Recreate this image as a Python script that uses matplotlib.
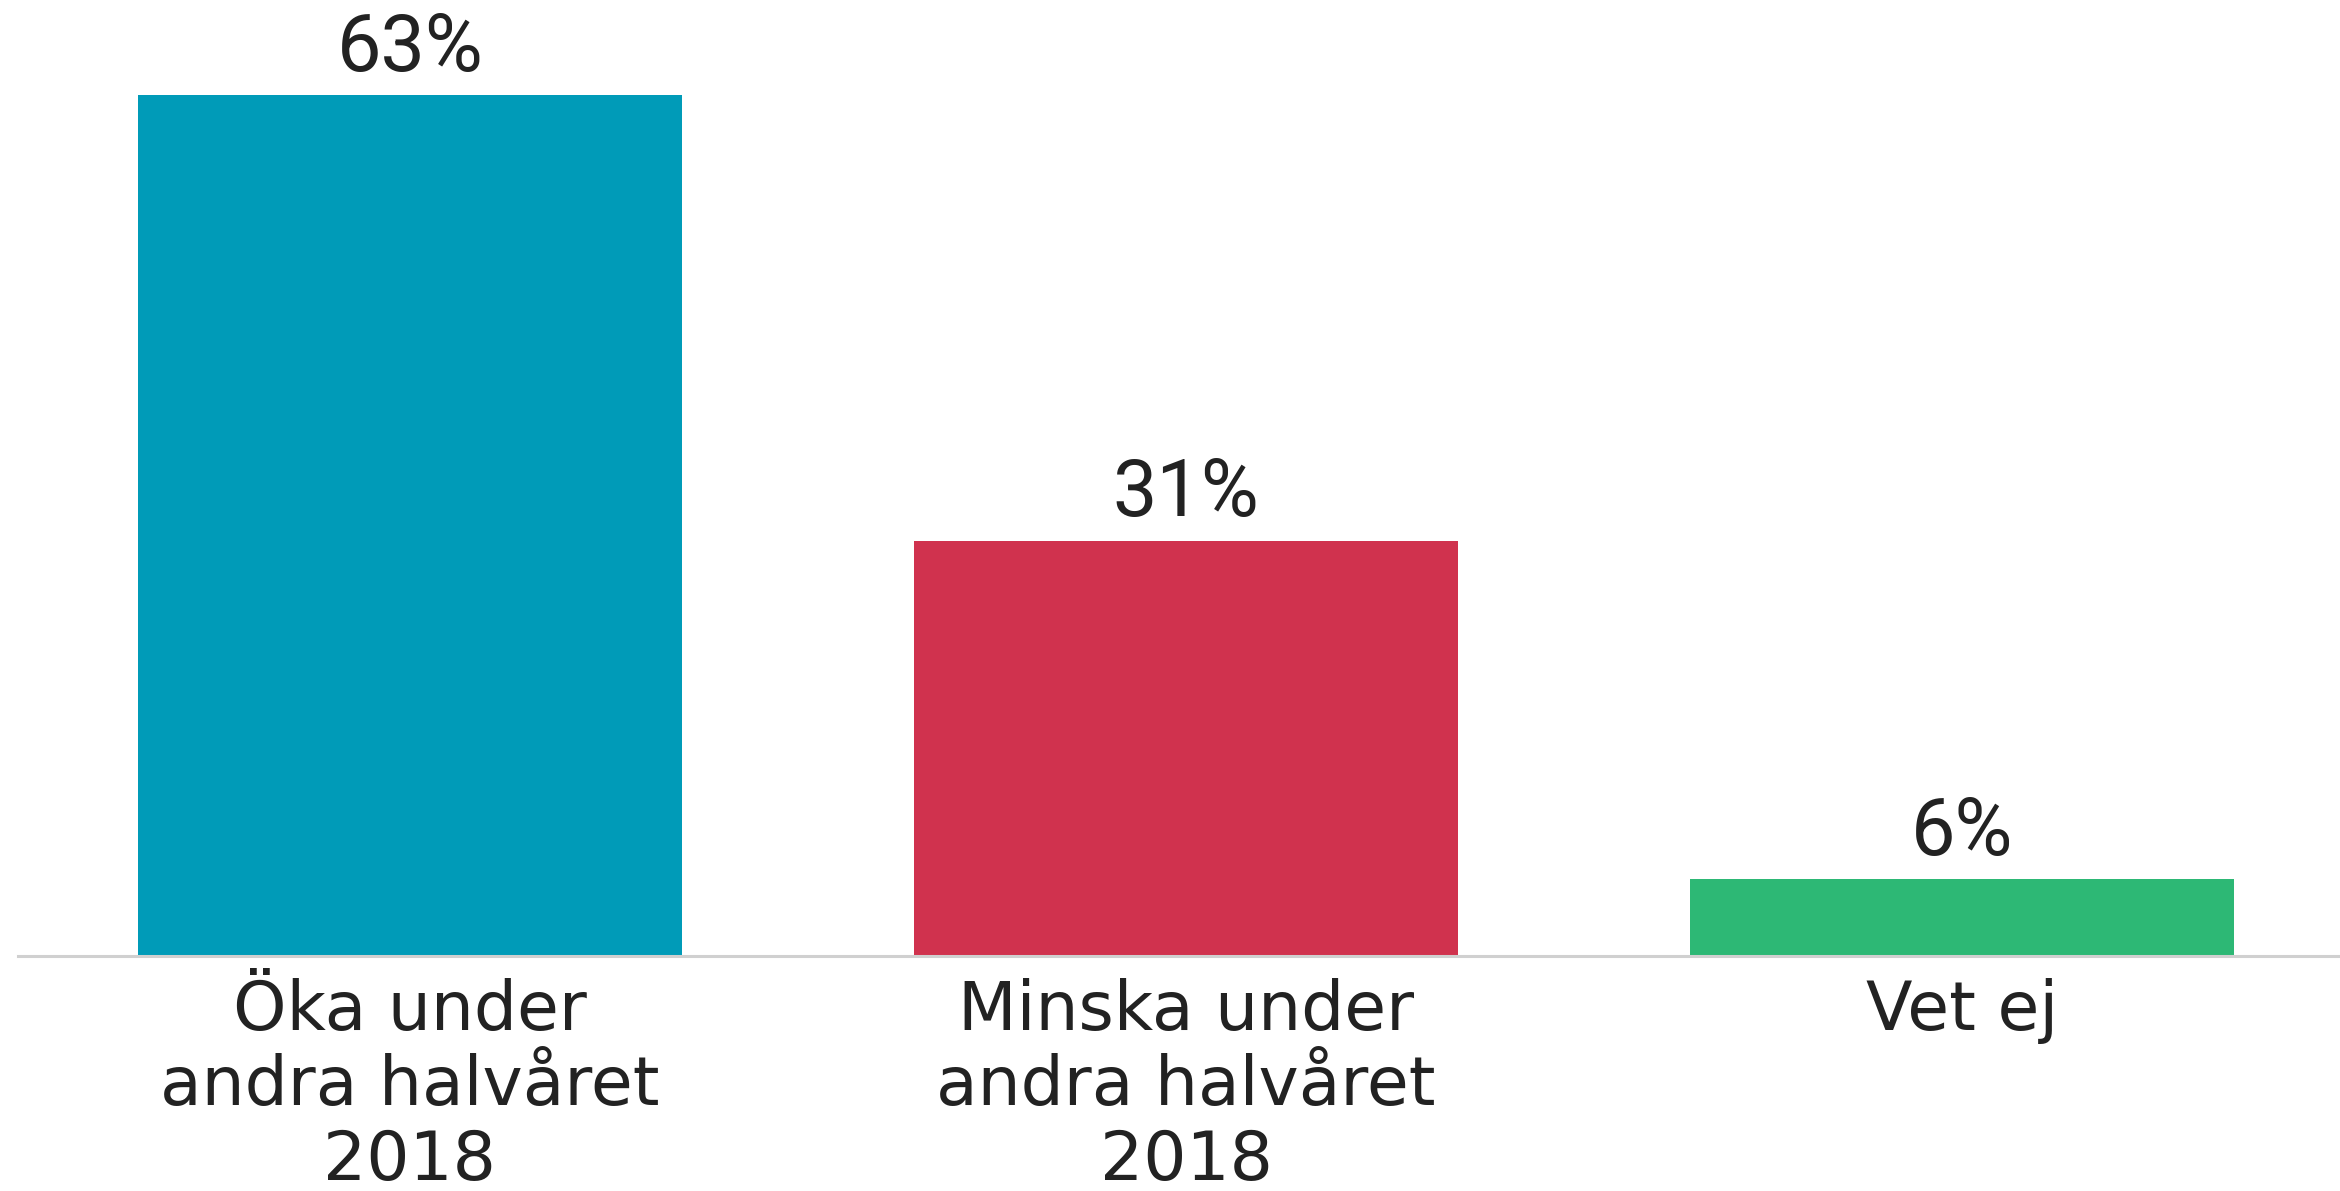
import matplotlib
matplotlib.use("Agg")
import matplotlib.pyplot as plt

categories = ["Öka under\nandra halvåret\n2018", "Minska under\nandra halvåret\n2018", "Vet ej"]
# bar heights; labels are the rounded figures shown
values = [63.0, 30.4, 5.6]
value_labels = ["63%", "31%", "6%"]
colors = ["#009BB8", "#D0324E", "#2DB875"]

fig = plt.figure(figsize=(23.4, 11.91), dpi=100)
ax = fig.add_axes([18 / 2340, 1 - 956 / 1191, 1 - 18 / 2340, (956 - 95) / 1191])

x = range(len(values))
bars = ax.bar(x, values, width=0.7, color=colors)

for bar, lab in zip(bars, value_labels):
    ax.annotate(lab, (bar.get_x() + bar.get_width() / 2, bar.get_height()),
                xytext=(0, 6), textcoords="offset points", ha="center", va="bottom",
                fontsize=57, family="Roboto", color="#222222", annotation_clip=False)

ax.set_xlim(-0.505, 2.487)
ax.set_ylim(0, 63)
ax.set_xticks(list(x))
ax.set_xticklabels(categories, fontsize=49, family="DejaVu Sans", color="#222222",
                   linespacing=1.17, va="top")
ax.tick_params(axis="x", length=0, pad=16)
ax.set_yticks([])
for side in ["top", "left", "right"]:
    ax.spines[side].set_visible(False)
ax.spines["bottom"].set_color("#d0d0d0")
ax.spines["bottom"].set_linewidth(2.2)

fig.savefig("out.png", dpi=100, facecolor="white")
